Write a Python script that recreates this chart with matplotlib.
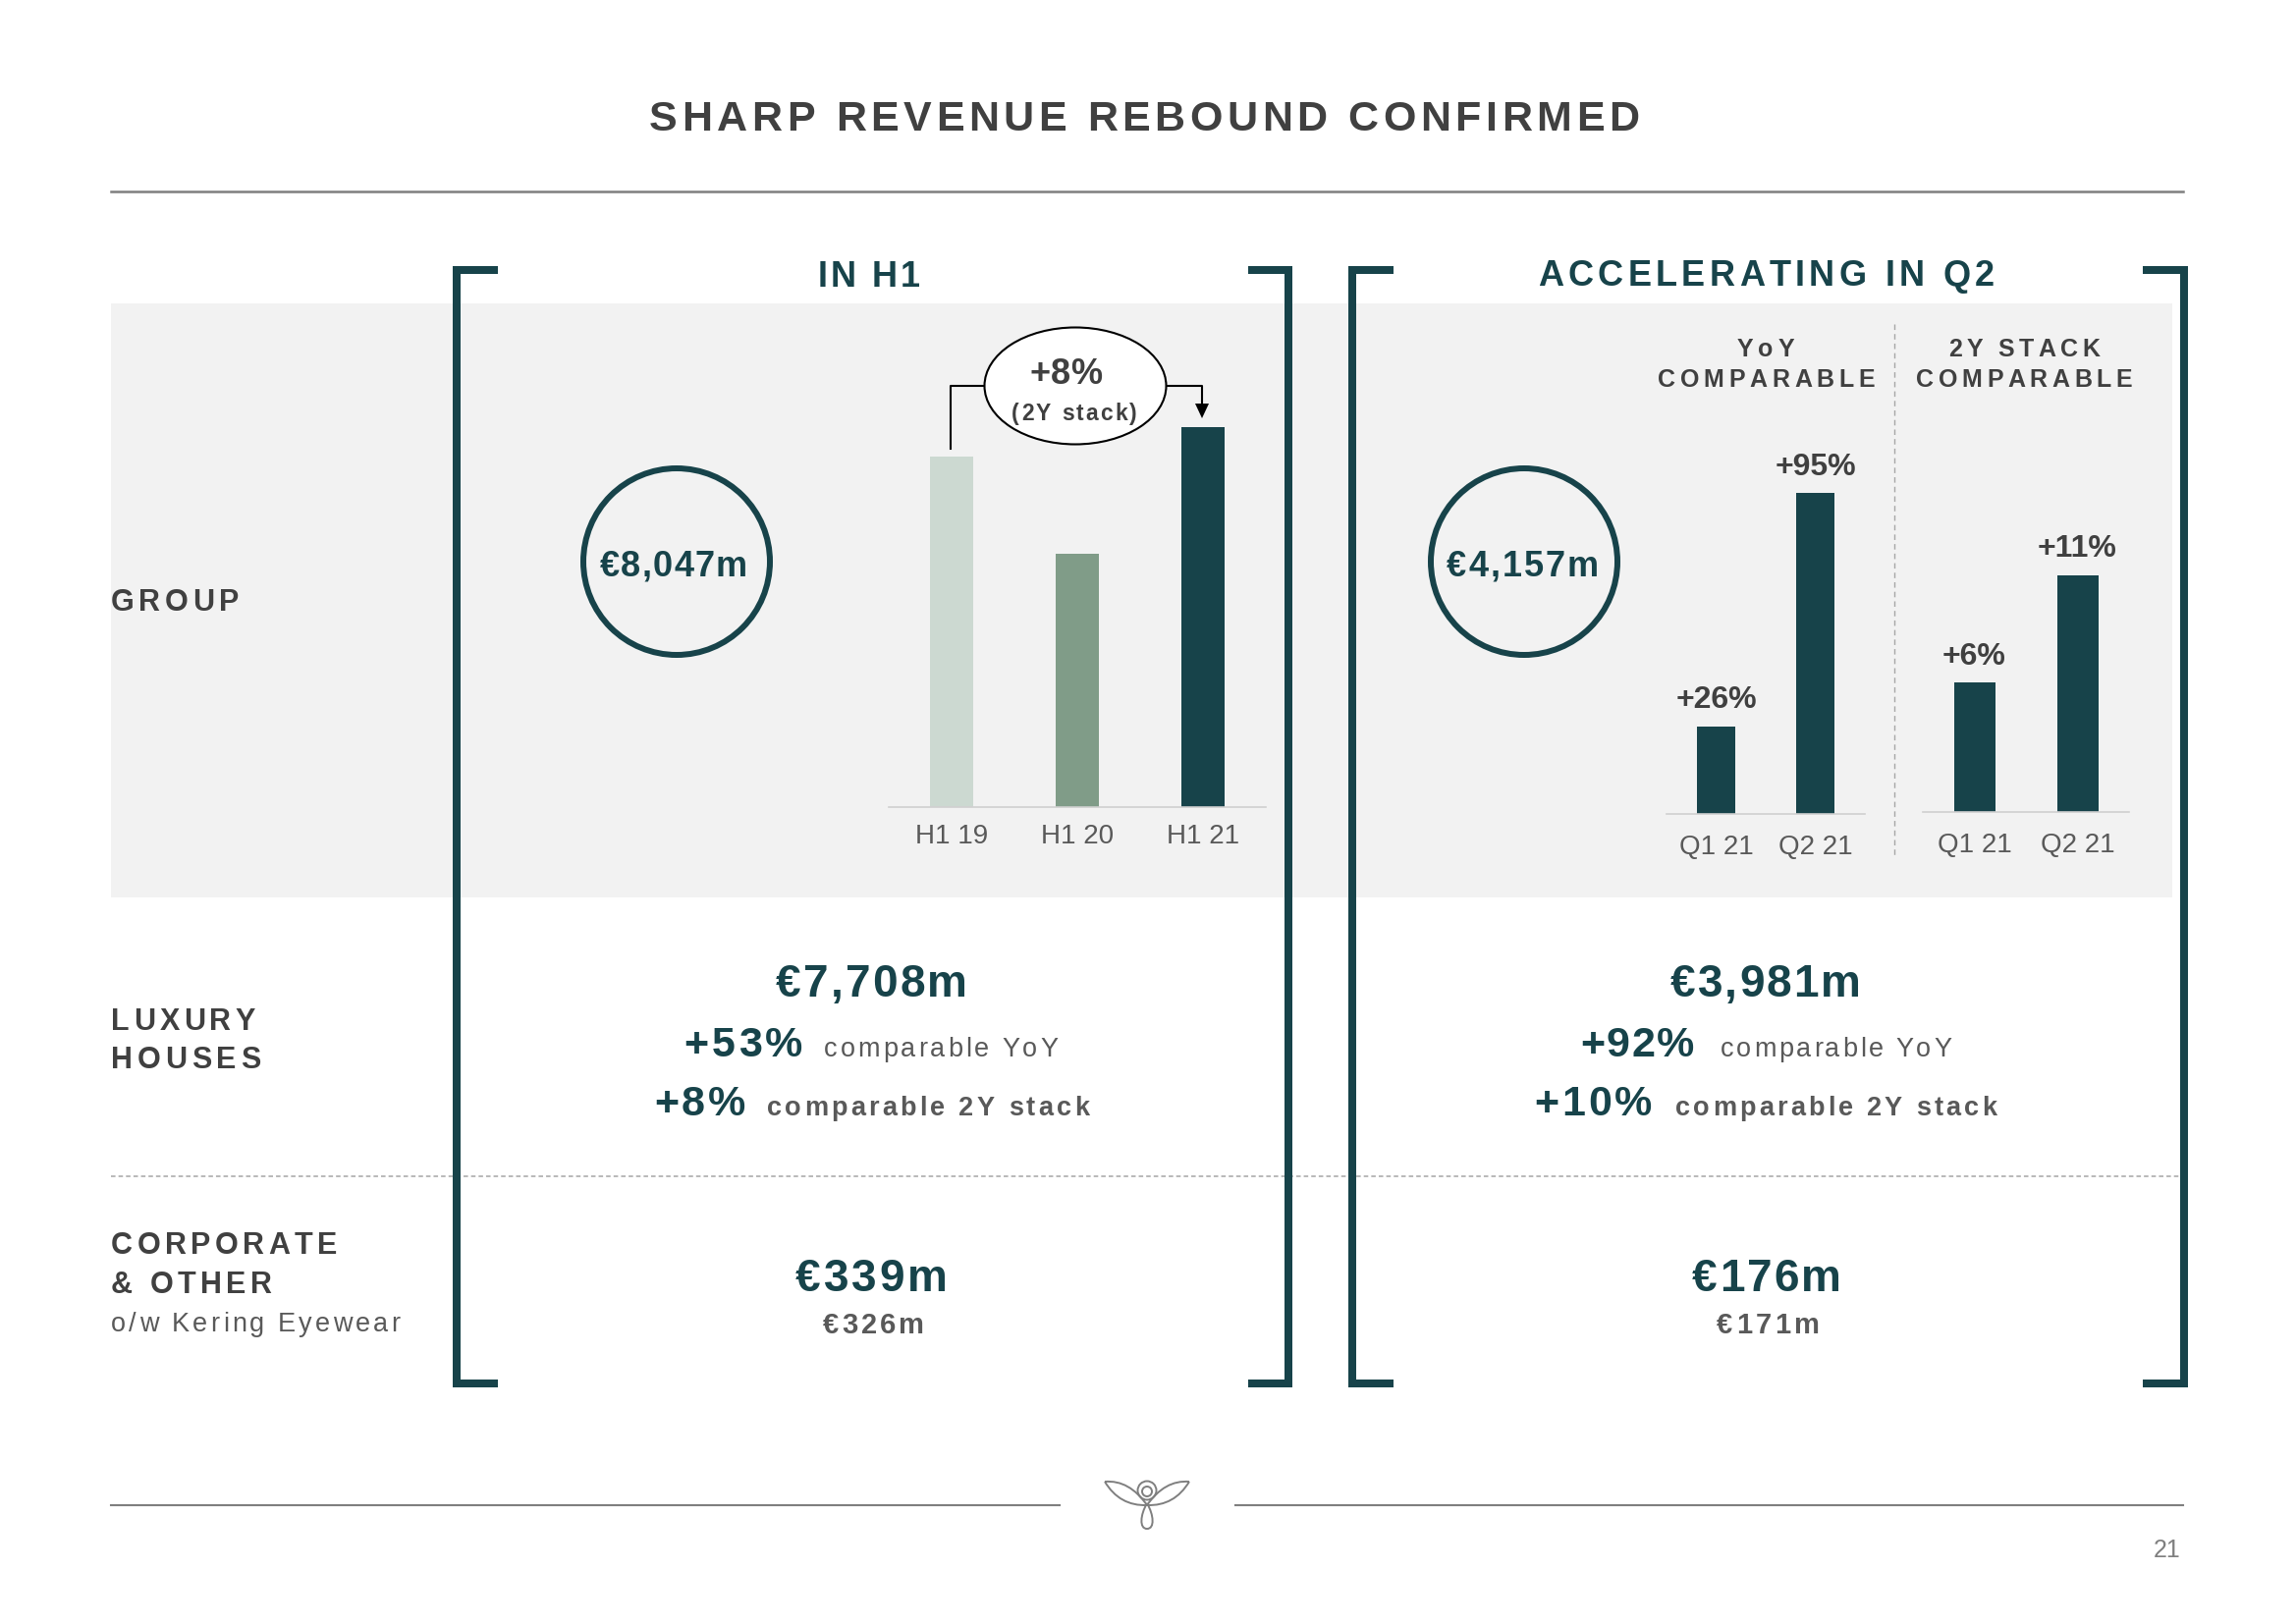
import matplotlib
matplotlib.use('Agg')
import matplotlib.pyplot as plt
from matplotlib.patches import Rectangle, Circle, Ellipse, Polygon, PathPatch
from matplotlib.path import Path
from matplotlib.textpath import TextToPath
from matplotlib.font_manager import FontProperties

plt.rcParams['font.family'] = ['Liberation Sans', 'DejaVu Sans']

# ---- data ----
h1_labels = ['H1 19', 'H1 20', 'H1 21']
h1_revenue = [7420, 5370, 8047]          # EUR m
q_labels = ['Q1 21', 'Q2 21']
yoy_growth = [26, 95]                    # % comparable YoY
stack_growth = [6, 11]                   # % comparable 2Y stack

group_total = ['€8,047m', '€4,157m']
lux_total = ['€7,708m', '€3,981m']
lux_yoy = ['+53%', '+92%']
lux_2y = ['+8%', '+10%']
corp_total = ['€339m', '€176m']
eyewear_total = ['€326m', '€171m']
h1_stack = '+8%'

TEAL = '#17434a'
DARK = '#404040'
GREY = '#595959'
LINE = '#7f7f7f'
bar_colors = ['#ccd9d1', '#809c88', TEAL]

W, H = 2338, 1654
PX = 100 / 72

fig = plt.figure(figsize=(23.38, 16.54), dpi=100)
ax = fig.add_axes([0, 0, 1, 1])
ax.set_xlim(0, W)
ax.set_ylim(H, 0)
ax.axis('off')

t2p = TextToPath()


def glyph_w(c, size, weight):
    if c == ' ':
        return 0.278 * size * PX
    fp = FontProperties(family='Liberation Sans', weight=weight, size=size)
    return t2p.get_text_width_height_descent(c, fp, ismath=False)[0] * PX


def spaced(x0, x1, y, s, size, weight='bold', color=DARK, z=6):
    # letter-spaced text stretched to run from x0 to x1 (pixel coords)
    ws = [glyph_w(c, size, weight) for c in s]
    gap = (x1 - x0 - sum(ws)) / max(len(s) - 1, 1)
    x = x0
    for c, w in zip(s, ws):
        if c != ' ':
            ax.text(x, y, c, fontsize=size, fontweight=weight, color=color,
                    ha='left', va='baseline', zorder=z)
        x += w + gap


# background band + rules
ax.add_patch(Rectangle((113, 309), 2212 - 113, 914 - 309, fc='#f2f2f2', ec='none', zorder=0))
ax.plot([113, 2223], [195, 195], color=LINE, lw=1.8)
ax.plot([113, 2222], [1198, 1198], color='#a6a6a6', lw=1.1, dashes=(3, 2), zorder=1)
ax.plot([1929, 1929], [330, 874], color='#a6a6a6', lw=1.0, dashes=(4, 3), zorder=1)
ax.plot([113, 1079], [1533, 1533], color=LINE, lw=1.5)
ax.plot([1258, 2223], [1533, 1533], color=LINE, lw=1.5)

# brackets
blw = 8 / PX
for xv, xt in [(465, 507), (1312, 1271), (1377, 1419), (2224, 2182)]:
    ax.plot([xt, xv, xv, xt], [275, 275, 1409, 1409], color=TEAL, lw=blw,
            solid_joinstyle='miter', solid_capstyle='butt', zorder=3)

# title and section headers
spaced(661, 1669, 133, 'SHARP REVENUE REBOUND CONFIRMED', 31)
spaced(833, 937, 292, 'IN H1', 26, color=TEAL)
spaced(1566, 2031, 291, 'ACCELERATING IN Q2', 26, color=TEAL)

# row labels
spaced(113, 243, 622, 'GROUP', 22)
spaced(113, 260, 1049, 'LUXURY', 22)
spaced(113, 265, 1088, 'HOUSES', 22)
spaced(113, 343, 1277, 'CORPORATE', 22)
spaced(113, 277, 1317, '& OTHER', 22)
spaced(113, 407, 1356, 'o/w Kering Eyewear', 19.5, weight='normal', color=GREY)

# group totals in circles
for (cx, cy), txt, (x0, x1) in zip([(689, 572), (1552, 572)], group_total,
                                  [(611, 761), (1473, 1628)]):
    ax.add_patch(Circle((cx, cy), 95, fill=False, ec=TEAL, lw=6 / PX, zorder=4))
    spaced(x0, x1, 587, txt, 26, color=TEAL)

# luxury houses
spaced(790, 985, 1015, lux_total[0], 33, color=TEAL)
spaced(696, 817, 1076, lux_yoy[0], 31, color=TEAL)
spaced(839, 1077, 1076, 'comparable YoY', 19.5, weight='normal', color=GREY)
spaced(666, 759, 1136, lux_2y[0], 31, color=TEAL)
spaced(781, 1109, 1136, 'comparable 2Y stack', 19.5, color=GREY)

spaced(1701, 1895, 1015, lux_total[1], 33, color=TEAL)
spaced(1609, 1725, 1076, lux_yoy[1], 31, color=TEAL)
spaced(1752, 1987, 1076, 'comparable YoY', 19.5, weight='normal', color=GREY)
spaced(1562, 1682, 1136, lux_2y[1], 31, color=TEAL)
spaced(1706, 2033, 1136, 'comparable 2Y stack', 19.5, color=GREY)

# corporate & other
spaced(810, 965, 1315, corp_total[0], 33, color=TEAL)
spaced(838, 941, 1358, eyewear_total[0], 21, color=GREY)
spaced(1723, 1875, 1315, corp_total[1], 33, color=TEAL)
spaced(1748, 1853, 1358, eyewear_total[1], 21, color=GREY)

# Q2 chart headers
spaced(1769, 1827, 363, 'YoY', 18)
spaced(1688, 1909, 394, 'COMPARABLE', 18)
spaced(1984, 2138, 363, '2Y STACK', 18)
spaced(1951, 2171, 394, 'COMPARABLE', 18)

# +8% 2Y stack callout
ax.add_patch(Ellipse((1095, 393), 185, 119, fc='white', ec='black', lw=1.5, zorder=5))
spaced(1049, 1122, 391, h1_stack, 26, z=7)
spaced(1030, 1158, 428, '(2Y stack)', 16.5, z=7)
ax.plot([968, 968, 1003], [457, 393, 393], color='black', lw=1.5, zorder=4)
ax.plot([1188, 1224, 1224], [393, 393, 413], color='black', lw=1.5, zorder=4)
ax.add_patch(Polygon([(1217, 411), (1231, 411), (1224, 426)], closed=True,
                     fc='black', ec='none', zorder=4))

# page number
ax.text(2221, 1586, '21', fontsize=18, color=LINE, ha='right', va='baseline')

# little logo between the footer rules
lg = dict(fill=False, ec=LINE, lw=1.4)
C3 = Path.CURVE3
for s in (1, -1):
    tip = (1168 - s * 43, 1509)
    pts = [tip, (1168 - s * 28, 1534), (1168, 1533), (1168 - s * 18, 1507), tip]
    ax.add_patch(PathPatch(Path(pts, [Path.MOVETO, C3, C3, C3, C3]), **lg))
ax.add_patch(Circle((1168, 1518), 9.5, **lg))
ax.add_patch(Circle((1168, 1519), 5, **lg))
C4 = Path.CURVE4
drop = [(1168, 1531), (1161, 1543), (1160, 1557), (1168, 1557),
        (1176, 1557), (1175, 1543), (1168, 1531)]
ax.add_patch(PathPatch(Path(drop, [Path.MOVETO, C4, C4, C4, C4, C4, C4]), **lg))


# ---- bar charts ----
def bar_axes(x0, x1, ybase, ytop):
    a = fig.add_axes([x0 / W, 1 - ybase / H, (x1 - x0) / W, (ybase - ytop) / H])
    a.patch.set_alpha(0)
    for s in ['top', 'right', 'left']:
        a.spines[s].set_visible(False)
    a.spines['bottom'].set_color('#d0d0d0')
    a.spines['bottom'].set_linewidth(1.2)
    a.tick_params(left=False, labelleft=False, length=0)
    return a


a1 = bar_axes(905, 1289, 822, 435)
a1.bar(range(len(h1_revenue)), h1_revenue, width=0.336, color=bar_colors)
a1.set_xlim(-0.5, 2.5)
a1.set_ylim(0, max(h1_revenue))
a1.set_xticks(range(3), h1_labels, fontsize=20, color=GREY)
a1.tick_params(axis='x', pad=12)

for (x0, x1, yb, yt), vals, bw in [((1697, 1899, 829, 502), yoy_growth, 0.39),
                                   ((1958, 2168, 827, 585.5), stack_growth, 0.40)]:
    a = bar_axes(x0, x1, yb, yt)
    a.bar(range(len(vals)), vals, width=bw, color=TEAL)
    a.set_xlim(-0.5, 1.5)
    a.set_ylim(0, max(vals))
    a.set_xticks(range(2), q_labels, fontsize=20, color=GREY)
    a.tick_params(axis='x', pad=15)
    for i, v in enumerate(vals):
        a.annotate(f'+{v}%', xy=(i, v), xytext=(0, 13), textcoords='offset points',
                   ha='center', va='baseline', fontsize=23, fontweight='bold',
                   color=DARK, annotation_clip=False)

fig.savefig('out.png', dpi=100, facecolor='white')
